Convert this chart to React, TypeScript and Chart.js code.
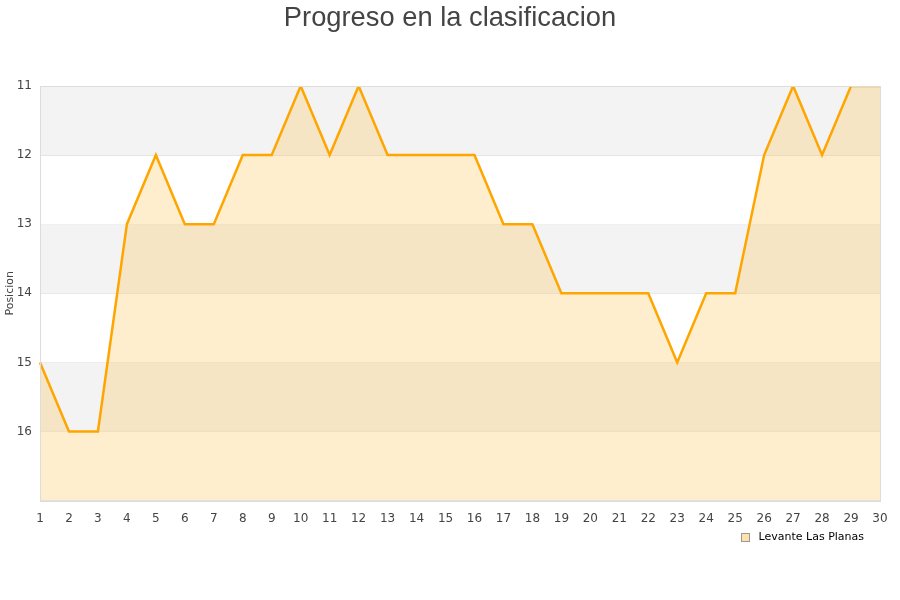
import React, { useEffect, useRef } from "react";
import { Chart, registerables } from "chart.js";

Chart.register(...registerables);

const jornadas: string[] = Array.from({ length: 30 }, (_, i) => String(i + 1));
const posiciones: number[] = [15, 16, 16, 13, 12, 13, 13, 12, 12, 11, 12, 11, 12, 12, 12, 12, 13, 13, 14, 14, 14, 14, 15, 14, 14, 12, 11, 12, 11, 11];
const teamName = "Levante Las Planas";
const chartTitle = "Progreso en la clasificacion";
const yTitle = "Posicion";

const bandsPlugin = {
  id: "bands",
  beforeDatasetsDraw(chart: any) {
    const { ctx, chartArea, scales } = chart;
    const y = scales.y;
    ctx.save();
    for (let v = 11; v < 17; v++) {
      if ((v - 11) % 2 === 0) {
        const top = y.getPixelForValue(v);
        const bottom = y.getPixelForValue(v + 1);
        ctx.fillStyle = "#f3f3f3";
        ctx.fillRect(chartArea.left, top, chartArea.right - chartArea.left, bottom - top);
      }
    }
    ctx.restore();
  },
  afterDraw(chart: any) {
    const { ctx, chartArea, width } = chart;
    ctx.save();
    ctx.strokeStyle = "#dcdcdc";
    ctx.lineWidth = 1;
    ctx.strokeRect(Math.round(chartArea.left) + 0.5, Math.round(chartArea.top) + 0.5, Math.round(chartArea.right - chartArea.left), Math.round(chartArea.bottom - chartArea.top));
    // title
    ctx.font = "27.3px 'Liberation Sans', Arial, sans-serif";
    ctx.fillStyle = "#444";
    ctx.textAlign = "center";
    ctx.textBaseline = "middle";
    ctx.fillText(chartTitle, width / 2, 18.4);
    // y axis title
    ctx.save();
    ctx.font = "11px 'DejaVu Sans', sans-serif";
    ctx.fillStyle = "#444";
    ctx.textAlign = "center";
    ctx.textBaseline = "middle";
    ctx.translate(chartArea.left - 30, (chartArea.top + chartArea.bottom) / 2);
    ctx.rotate(-Math.PI / 2);
    ctx.fillText(yTitle, 0, 0);
    ctx.restore();
    // legend
    ctx.font = "11px 'DejaVu Sans', sans-serif";
    const tw = ctx.measureText(teamName).width;
    const textRight = chartArea.right - 16;
    const textLeft = textRight - tw;
    const cy = chartArea.bottom + 37;
    const boxX = Math.round(textLeft - 18) + 0.5;
    const boxY = Math.round(cy - 4.5) + 0.5;
    ctx.fillStyle = "rgba(255, 225, 170, 1)";
    ctx.fillRect(boxX, boxY, 8, 8);
    ctx.strokeStyle = "#999";
    ctx.strokeRect(boxX, boxY, 8, 8);
    ctx.fillStyle = "#000";
    ctx.textBaseline = "middle";
    ctx.textAlign = "left";
    ctx.fillText(teamName, textLeft, cy);
    ctx.restore();
  },
};

export default function App() {
  const ref = useRef<HTMLCanvasElement | null>(null);
  useEffect(() => {
    if (!ref.current) return;
    const chart = new Chart(ref.current, {
      type: "line",
      data: {
        labels: jornadas,
        datasets: [
          {
            label: teamName,
            data: posiciones,
            borderColor: "#ffa500",
            borderWidth: 2.5,
            backgroundColor: "rgba(255, 200, 90, 0.3)",
            fill: { value: 17 },
            pointRadius: 0,
            tension: 0,
          },
        ],
      },
      options: {
        animation: false,
        responsive: false,
        layout: { padding: { left: 2, right: 20, top: 86, bottom: 71 } },
        plugins: {
          title: { display: false },
          legend: { display: false },
          tooltip: { enabled: false },
        },
        scales: {
          x: {
            offset: false,
            grid: { display: false },
            border: { display: false },
            ticks: {
              color: "#444",
              maxRotation: 0,
              autoSkip: false,
              font: { family: "'DejaVu Sans', sans-serif", size: 12 },
            },
          },
          y: {
            min: 11,
            max: 17,
            reverse: true,
            afterFit: (scale: any) => {
              scale.width = 38;
            },
            grid: { color: "#e2e2e2", drawTicks: false },
            border: { display: false },
            title: { display: false },
            ticks: {
              stepSize: 1,
              color: "#444",
              padding: 8,
              font: { family: "'DejaVu Sans', sans-serif", size: 12 },
              callback: (v: any) => (v === 17 ? "" : String(v)),
            },
          },
        },
      },
      plugins: [bandsPlugin],
    } as any);
    return () => chart.destroy();
  }, []);
  return (
    <canvas
      ref={ref}
      width={900}
      height={600}
      style={{ position: "fixed", left: 0, top: 0, width: 900, height: 600 }}
    />
  );
}
